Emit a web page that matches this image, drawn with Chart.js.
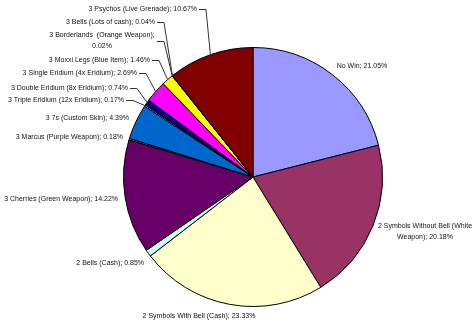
<!DOCTYPE html>
<html>
<head>
<meta charset="utf-8">
<script src="https://cdn.jsdelivr.net/npm/chart.js@4.4.0/dist/chart.umd.min.js"></script>
<style>
html,body{margin:0;padding:0;background:#fff;}
#wrap{width:474px;height:323px;position:relative;}
</style>
</head>
<body>
<div id="wrap"><canvas id="c"></canvas></div>
<script>
// ---- data ----
const categories = [
  "No Win",
  "2 Symbols Without Bell (White Weapon)",
  "2 Symbols With Bell (Cash)",
  "2 Bells (Cash)",
  "3 Cherries (Green Weapon)",
  "3 Marcus (Purple Weapon)",
  "3 7s (Custom Skin)",
  "3 Triple Eridium (12x Eridium)",
  "3 Double Eridium (8x Eridium)",
  "3 Single Eridium (4x Eridium)",
  "3 Moxxi Legs (Blue Item)",
  "3 Borderlands  (Orange Weapon)",
  "3 Bells (Lots of cash)",
  "3 Psychos (Live Grenade)"
];
const percentages = [21.05, 20.18, 23.33, 0.85, 14.22, 0.18, 4.39, 0.17, 0.74, 2.69, 1.46, 0.02, 0.04, 10.67];
const sliceColors = ["#9999FF","#993366","#FFFFCC","#CCFFFF","#660066","#FF8080","#0066CC","#CCCCFF","#000080","#FF00FF","#FFFF00","#00FFFF","#800080","#800000"];

// label text lines (built from data) and placement relative to pie centre
function labelLines(i){
  const t = categories[i] + "; " + percentages[i].toFixed(2) + "%";
  if (i === 1) return ["2 Symbols Without Bell (White", "Weapon); " + percentages[i].toFixed(2) + "%"];
  if (i === 11) return [categories[i] + ";", percentages[i].toFixed(2) + "%"];
  return [t];
}
// [dx, dy, align, leader]
const labelLayout = [
  [109, -111, "center", false],
  [172, 55, "center", false],
  [-54, 139, "center", false],
  [-109, 86, "right", false],
  [-135, 22, "right", false],
  [-130, -40, "right", false],
  [-124, -59, "right", false],
  [-129, -77, "right", true],
  [-125, -89, "right", true],
  [-116, -104, "right", true],
  [-103, -117, "right", true],
  [-151, -136, "center", true],
  [-98, -155, "right", true],
  [-56, -168, "right", true]
];

const labelPlugin = {
  id: "pieLabels",
  afterDatasetsDraw(chart){
    const ctx = chart.ctx;
    const meta = chart.getDatasetMeta(0);
    ctx.save();
    ctx.font = '7px "Liberation Sans", Arial, sans-serif';
    ctx.fillStyle = "#111";
    ctx.textBaseline = "middle";
    const lh = 11;
    meta.data.forEach((arc, i) => {
      const p = arc.getProps(["x","y","startAngle","endAngle","outerRadius"], true);
      const [dx, dy, align, leader] = labelLayout[i];
      const lx = p.x + dx, ly = p.y + dy;
      const lines = labelLines(i);
      const y0 = ly - (lines.length - 1) * lh / 2;
      ctx.textAlign = align;
      let maxW = 0;
      lines.forEach((s, k) => {
        ctx.fillText(s, lx, y0 + k * lh);
        maxW = Math.max(maxW, ctx.measureText(s).width);
      });
      if (leader) {
        const mid = (p.startAngle + p.endAngle) / 2;
        const ax = p.x + p.outerRadius * Math.cos(mid);
        const ay = p.y + p.outerRadius * Math.sin(mid);
        const right = align === "right" ? lx : lx + maxW / 2;
        ctx.beginPath();
        ctx.strokeStyle = "#333";
        ctx.lineWidth = 1;
        ctx.moveTo(Math.round(right + 2) , Math.round(ly) + 0.5);
        ctx.lineTo(Math.round(right + 9), Math.round(ly) + 0.5);
        ctx.lineTo(ax, ay);
        ctx.stroke();
      }
    });
    ctx.restore();
  }
};

new Chart(document.getElementById("c"), {
  type: "pie",
  data: {
    labels: categories,
    datasets: [{
      data: percentages,
      backgroundColor: sliceColors,
      borderColor: "#000",
      borderWidth: 1
    }]
  },
  options: {
    responsive: true,
    maintainAspectRatio: false,
    animation: false,
    layout: { padding: { top: 47, bottom: 16, left: 123, right: 91 } },
    plugins: { legend: { display: false }, tooltip: { enabled: false } }
  },
  plugins: [labelPlugin]
});
</script>
</body>
</html>
